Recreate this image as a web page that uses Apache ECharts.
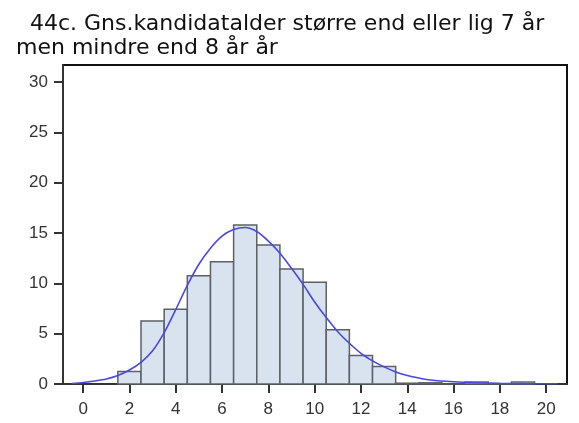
<!DOCTYPE html>
<html lang="da">
<head>
    <meta charset="UTF-8">
    <title>Gns. kandidatalder</title>
    <script src="https://cdn.jsdelivr.net/npm/echarts@6.0.0/dist/echarts.min.js"></script>
    <style>
        body { margin: 0; background: #fff; }
        #chart { width: 579px; height: 423px; }
    </style>
</head>
<body>
    <div id="chart"></div>
    <script>
        // histogram bins (centre, percent)
        var binCenters = [2, 3, 4, 5, 6, 7, 8, 9, 10, 11, 12, 13, 14, 15, 16, 17, 18, 19];
        var binValues = [1.25, 6.27, 7.42, 10.75, 12.15, 15.8, 13.82, 11.42, 10.1, 5.38, 2.83, 1.74, 0.08, 0.12, 0, 0.2, 0, 0.2];

        // normal curve
        var curveX = [-0.5, 0, 0.5, 1, 1.5, 2, 2.5, 3, 3.5, 4, 4.5, 5, 5.5, 6, 6.5, 7, 7.5, 8, 8.5, 9, 9.5, 10, 10.5, 11, 11.5, 12, 12.5, 13, 13.5, 14, 14.5, 15, 16, 17, 18, 19, 20.5];
        var curveY = [0.05, 0.15, 0.3, 0.5, 0.85, 1.39, 2.15, 3.3, 5.1, 7.4, 9.8, 11.9, 13.5, 14.7, 15.35, 15.55, 15.15, 14.2, 13.0, 11.5, 9.9, 8.15, 6.6, 5.2, 4.05, 3.05, 2.3, 1.7, 1.2, 0.85, 0.6, 0.4, 0.22, 0.12, 0.07, 0.04, 0.02];

        var xTicks = [0, 2, 4, 6, 8, 10, 12, 14, 16, 18, 20];
        var yTicks = [0, 5, 10, 15, 20, 25, 30];

        var chart = echarts.init(document.getElementById('chart'));

        var option = {
            animation: false,
            title: {
                text: '  44c. Gns.kandidatalder større end eller lig 7 år\nmen mindre end 8 år år',
                left: 11,
                top: 7,
                textStyle: {
                    fontFamily: 'DejaVu Sans',
                    fontSize: 22,
                    fontWeight: 'normal',
                    color: '#111',
                    lineHeight: 24
                }
            },
            grid: {
                left: 63, right: 12, top: 65, bottom: 39,
                show: true,
                borderColor: '#111',
                borderWidth: 2
            },
            xAxis: {
                type: 'value',
                min: -0.87,
                max: 20.9,
                splitLine: { show: false },
                axisLine: { onZero: false, lineStyle: { color: '#333', width: 2 } },
                axisTick: { customValues: xTicks, length: 9, lineStyle: { color: '#333', width: 2 } },
                axisLabel: {
                    customValues: xTicks,
                    color: '#333',
                    fontSize: 17,
                    fontFamily: 'Liberation Sans',
                    margin: 17
                }
            },
            yAxis: {
                type: 'value',
                min: 0,
                max: 31.7,
                splitLine: { show: false },
                axisLine: { show: true, onZero: false, lineStyle: { color: '#333', width: 2 } },
                axisTick: { show: true, customValues: yTicks, length: 9, lineStyle: { color: '#333', width: 2 } },
                axisLabel: {
                    customValues: yTicks,
                    color: '#333',
                    fontSize: 17,
                    fontFamily: 'Liberation Sans',
                    margin: 15
                }
            },
            series: [
                {
                    type: 'custom',
                    data: binCenters.map(function (c, i) { return [c, binValues[i]]; }),
                    renderItem: function (params, api) {
                        var c = api.value(0), v = api.value(1);
                        var p0 = api.coord([c - 0.5, v]);
                        var p1 = api.coord([c + 0.5, 0]);
                        return {
                            type: 'rect',
                            shape: { x: p0[0], y: p0[1], width: p1[0] - p0[0], height: p1[1] - p0[1] },
                            style: { fill: '#d9e3f0', stroke: '#5b6166', lineWidth: 1.5 }
                        };
                    }
                },
                {
                    type: 'line',
                    data: curveX.map(function (x, i) { return [x, curveY[i]]; }),
                    smooth: 0.3,
                    showSymbol: false,
                    lineStyle: { color: '#4848e2', width: 1.6 },
                    z: 5
                }
            ]
        };

        chart.setOption(option);
    </script>
</body>
</html>
